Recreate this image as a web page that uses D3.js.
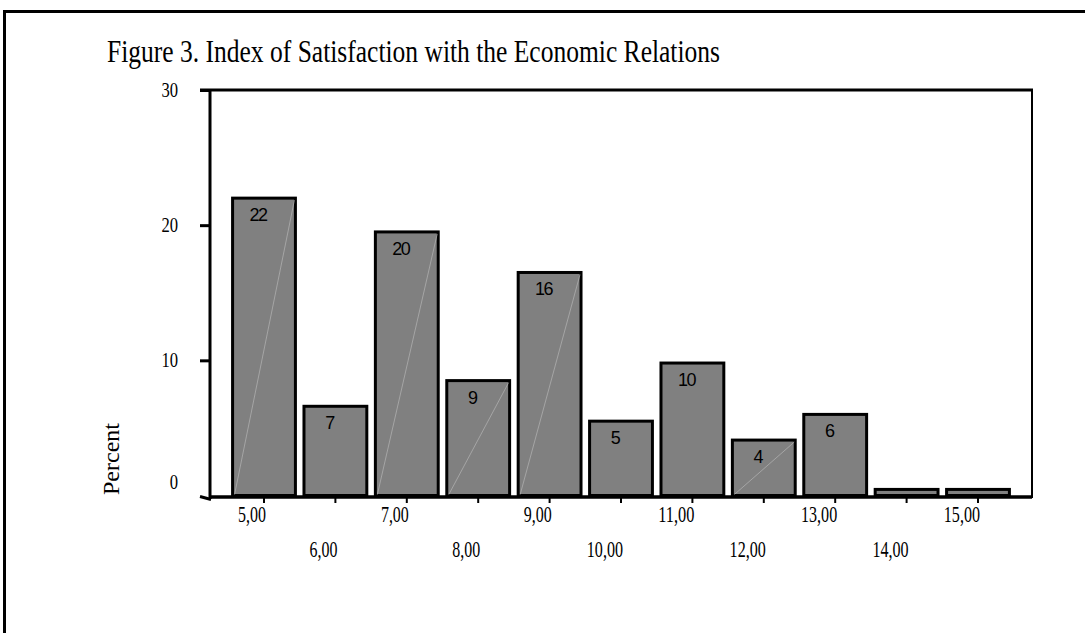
<!DOCTYPE html>
<html>
<head>
<meta charset="utf-8">
<script src="https://cdn.jsdelivr.net/npm/d3@7"></script>
<style>
    body { margin: 0; background: #fff; }
    .serif { font-family: "Liberation Serif", "Times New Roman", serif; fill: #000; }
    .sans { font-family: "Liberation Sans", Arial, sans-serif; fill: #000; }
</style>
</head>
<body>
<div id="chart"></div>
<script>
// data
const categories = ["5,00", "6,00", "7,00", "8,00", "9,00", "10,00", "11,00", "12,00", "13,00", "14,00", "15,00"];
const percents = [22.0, 6.6, 19.5, 8.5, 16.5, 5.5, 9.8, 4.1, 6.0, 0.45, 0.45];
const barLabels = ["22", "7", "20", "9", "16", "5", "10", "4", "6", "", ""];
const yTicks = [0, 10, 20, 30];

const width = 1085, height = 633;

const svg = d3.select("#chart").append("svg")
    .attr("width", width)
    .attr("height", height);

// outer frame (runs off the right / bottom of the page)
svg.append("rect")
    .attr("x", 4.5).attr("y", 11.5)
    .attr("width", 1300).attr("height", 900)
    .attr("fill", "none")
    .attr("stroke", "#000")
    .attr("stroke-width", 3);

// title, squeezed like the original export
svg.append("text")
    .attr("class", "serif")
    .attr("x", 107).attr("y", 62)
    .attr("font-size", 31)
    .attr("textLength", 613)
    .attr("lengthAdjust", "spacingAndGlyphs")
    .text("Figure 3. Index of Satisfaction with the Economic Relations");

// scales
const x = d3.scaleBand()
    .domain(categories)
    .range([228.3, 1013.7])
    .paddingInner(0.12)
    .paddingOuter(0.06);

const y = d3.scaleLinear()
    .domain([0, 30])
    .range([495.5, 90]);

const axisLeftX = 210, plotRight = 1032;
// condensed width of a serif label, about 8.5px per digit
const squeeze = s => s.replace(",", "").length * 8.3 + 3;

// bars
const bars = svg.append("g").attr("class", "bars");
bars.selectAll("rect")
    .data(percents)
    .enter().append("rect")
    .attr("x", (d, i) => x(categories[i]))
    .attr("y", d => y(d))
    .attr("width", x.bandwidth())
    .attr("height", d => y(0) - y(d))
    .attr("fill", "#808080")
    .attr("stroke", "#000")
    .attr("stroke-width", 3);

// faint diagonal seams seen in some bars
const seams = [0, 2, 3, 4, 7];
bars.selectAll("line")
    .data(seams)
    .enter().append("line")
    .attr("x1", i => x(categories[i]) + 2)
    .attr("y1", y(0) - 1)
    .attr("x2", i => x(categories[i]) + x.bandwidth() - 1)
    .attr("y2", i => y(percents[i]) + 2)
    .attr("stroke", "#b4b4b4")
    .attr("stroke-width", 0.7);

// value labels inside bars
svg.append("g").selectAll("text")
    .data(percents)
    .enter().append("text")
    .attr("class", "sans")
    .attr("x", (d, i) => x(categories[i]) + x.bandwidth() / 2 - 6)
    .attr("y", d => y(d) + 23)
    .attr("text-anchor", "middle")
    .attr("font-size", 18)
    .attr("letter-spacing", "-1.5px")
    .text((d, i) => barLabels[i]);

// y axis
const yAxis = d3.axisLeft(y)
    .tickValues(yTicks)
    .tickSize(10)
    .tickPadding(22)
    .tickFormat(d3.format("d"));

const gy = svg.append("g")
    .attr("transform", `translate(${axisLeftX},0)`)
    .call(yAxis);
gy.select(".domain").remove();
gy.selectAll(".tick line").attr("stroke", "#000").attr("stroke-width", 3);
gy.selectAll(".tick")
    .filter(d => d === 0)
    .select("line")
    .attr("x1", -10).attr("y1", 0.5)
    .attr("x2", 1).attr("y2", 3.5);
gy.selectAll(".tick text")
    .attr("class", "serif")
    .attr("font-size", 22)
    .attr("textLength", d => String(d).length * 8.3)
    .attr("lengthAdjust", "spacingAndGlyphs")
    .attr("dy", d => d === 0 ? "-0.3em" : "0.28em");

// left axis line
svg.append("line")
    .attr("x1", axisLeftX).attr("x2", axisLeftX)
    .attr("y1", y(30)).attr("y2", 499)
    .attr("stroke", "#000").attr("stroke-width", 3);

// top and right border of plot
svg.append("line")
    .attr("x1", 200).attr("x2", plotRight + 1)
    .attr("y1", y(30)).attr("y2", y(30))
    .attr("stroke", "#000").attr("stroke-width", 3);
svg.append("line")
    .attr("x1", plotRight).attr("x2", plotRight)
    .attr("y1", y(30)).attr("y2", 498)
    .attr("stroke", "#000").attr("stroke-width", 2);

// x axis
const xAxis = d3.axisBottom(x)
    .tickSize(6)
    .tickPadding(0);

const gx = svg.append("g")
    .attr("transform", `translate(0,${y(0) + 1.5})`)
    .call(xAxis);
gx.select(".domain").remove();
gx.selectAll(".tick line").attr("stroke", "#000").attr("stroke-width", 2);
gx.selectAll(".tick text")
    .attr("class", "serif")
    .attr("font-size", 23)
    .attr("textLength", d => squeeze(d))
    .attr("lengthAdjust", "spacingAndGlyphs")
    .attr("text-anchor", "end")
    .attr("x", 2)
    .attr("y", (d, i) => i % 2 === 0 ? 25 : 60)
    .attr("dy", 0);

svg.append("line")
    .attr("x1", axisLeftX).attr("x2", plotRight)
    .attr("y1", y(0) + 1.5).attr("y2", y(0) + 1.5)
    .attr("stroke", "#000").attr("stroke-width", 3.5);

// y title
svg.append("text")
    .attr("class", "serif")
    .attr("transform", "translate(119,459) rotate(-90)")
    .attr("text-anchor", "middle")
    .attr("font-size", 24)
    .text("Percent");
</script>
</body>
</html>
